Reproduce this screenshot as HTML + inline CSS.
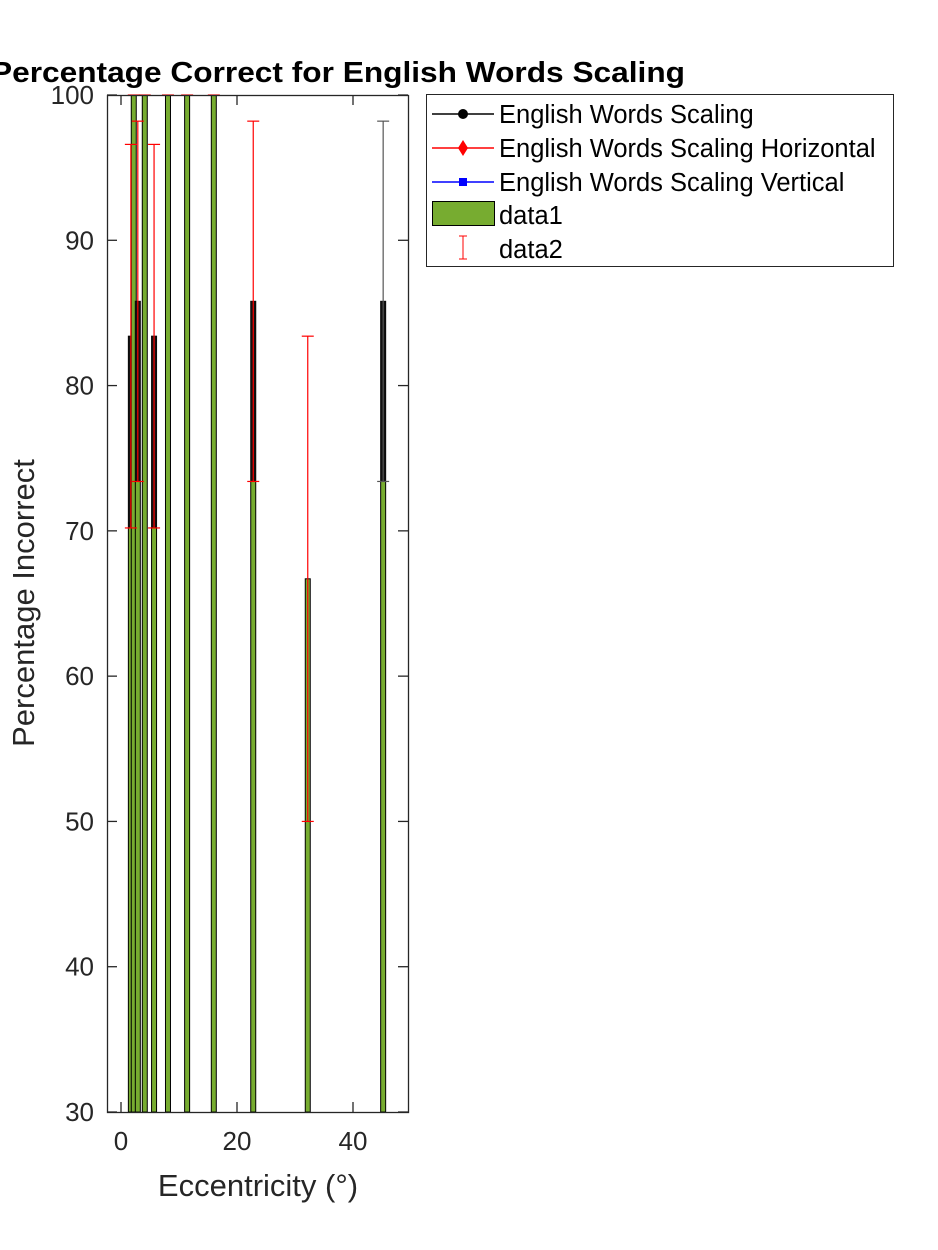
<!DOCTYPE html>
<html><head><meta charset="utf-8"><style>
html,body{margin:0;padding:0;background:#fff;}
svg{display:block;font-family:"Liberation Sans",Arial,sans-serif;}
</style></head><body>
<svg id="chart" width="938" height="1250" viewBox="0 0 938 1250">
<text x="-9" y="82" font-size="29" font-weight="bold" fill="#000" textLength="694" lengthAdjust="spacingAndGlyphs">Percentage Correct for English Words Scaling</text>
<g id="bars"></g>
<g id="errs"></g>
<rect x="107.5" y="95.5" width="301" height="1017" fill="none" stroke="#262626" stroke-width="1.3"/>
<g id="ticks"></g>
<text x="258" y="1196" text-anchor="middle" font-size="31" fill="#262626">Eccentricity (°)</text>
<text transform="translate(34,603) rotate(-90)" text-anchor="middle" font-size="31" fill="#262626">Percentage Incorrect</text>
<g>
<rect x="426.5" y="94.5" width="467" height="172" fill="#fff" stroke="#262626" stroke-width="1"/>
<g>
<line x1="432" y1="114" x2="494" y2="114" stroke="#000" stroke-width="1.5"/><circle cx="463" cy="114" r="5" fill="#000"/>
<text x="499" y="123" font-size="25.5" fill="#000">English Words Scaling</text></g>
<g>
<line x1="432" y1="148" x2="494" y2="148" stroke="#f00" stroke-width="1.5"/><polygon points="463,140 468,148 463,156 458,148" fill="#f00"/>
<text x="499" y="157" font-size="25.5" fill="#000">English Words Scaling Horizontal</text></g>
<g>
<line x1="432" y1="182" x2="494" y2="182" stroke="#00f" stroke-width="1.5"/><rect x="459" y="178" width="8" height="8" fill="#00f"/>
<text x="499" y="191" font-size="25.5" fill="#000">English Words Scaling Vertical</text></g>
<g>
<rect x="432.5" y="201.5" width="62" height="24" fill="#77ac30" stroke="#000" stroke-width="1"/>
<text x="499" y="224" font-size="25.5" fill="#000">data1</text></g>
<g>
<line x1="463" y1="236" x2="463" y2="259" stroke="#f00" stroke-width="1"/><line x1="459" y1="236" x2="467" y2="236" stroke="#f00"/><line x1="459" y1="259" x2="467" y2="259" stroke="#f00"/>
<text x="499" y="258" font-size="25.5" fill="#000">data2</text></g>
</g>
</svg>
<script>
const ecc = [1.7, 2.2, 2.9, 4.1, 5.7, 8.1, 11.4, 16.0, 22.8, 32.2, 45.2];
const pct = [83.4, 100, 85.8, 100, 83.4, 100, 100, 100, 85.8, 66.7, 85.8];
const errLow = [70.2, null, 73.4, null, 70.2, null, null, null, 73.4, 50.0, 73.4];
const errHigh = [96.6, 100, 98.2, 100, 96.6, 100, 100, 100, 98.2, 83.4, 98.2];
const errColor = ["red","red","red","red","red","red","red","red","red","red","gray"];
const darkTop = [true, false, true, false, true, false, false, false, true, false, true];
const xTicks = [0, 20, 40];
const yTicks = [30, 40, 50, 60, 70, 80, 90, 100];
const NS = "http://www.w3.org/2000/svg";
const X = v => 121 + v * 5.8;
const Y = v => 95 + (100 - v) * (1017 / 70);
function mk(tag, attrs, parent){const e=document.createElementNS(NS,tag);for(const k in attrs)e.setAttribute(k,attrs[k]);parent.appendChild(e);return e;}
const bars=document.getElementById('bars'), errs=document.getElementById('errs'), ticks=document.getElementById('ticks');
ecc.forEach((e,i)=>{
  const x=X(e), top=Y(pct[i]);
  const r=mk('rect',{x:x-2.5,y:top,width:5,height:Y(30)-top,fill:'#77ac30',stroke:'#000','stroke-width':1},bars);
  
  
  if(errLow[i]!==null && darkTop[i]){
    const ov=mk('rect',{x:x-2.5,y:top,width:5,height:Y(errLow[i])-top,fill:'#111'},bars);
    
    
  }
  const c=errColor[i]==='red'?'#f00':'#555';
  const g=mk('g',{stroke:c,'stroke-width':1.2},errs);
  
  
  if(errLow[i]!==null){
    mk('line',{x1:x,y1:Y(errLow[i]),x2:x,y2:Y(errHigh[i])},g);
    mk('line',{x1:x-6,y1:Y(errLow[i]),x2:x+6,y2:Y(errLow[i])},g);
  }
  mk('line',{x1:x-6,y1:Y(Math.min(errHigh[i],100)),x2:x+6,y2:Y(Math.min(errHigh[i],100))},g);
});
xTicks.forEach(t=>{
  const x=X(t);
  mk('line',{x1:x,y1:1112,x2:x,y2:1102,stroke:'#262626','stroke-width':1.3},ticks);
  mk('line',{x1:x,y1:95,x2:x,y2:105,stroke:'#262626','stroke-width':1.3},ticks);
  const tx=mk('text',{x:x,y:1150,'text-anchor':'middle','font-size':26,fill:'#262626'},ticks);
  tx.textContent=t;
  
  
});
yTicks.forEach(t=>{
  const y=Y(t);
  mk('line',{x1:107,y1:y,x2:117,y2:y,stroke:'#262626','stroke-width':1.3},ticks);
  mk('line',{x1:408,y1:y,x2:398,y2:y,stroke:'#262626','stroke-width':1.3},ticks);
  const tx=mk('text',{x:94,y:y+9,'text-anchor':'end','font-size':26,fill:'#262626'},ticks);
  tx.textContent=t;
  
  
});
</script>
</body></html>
